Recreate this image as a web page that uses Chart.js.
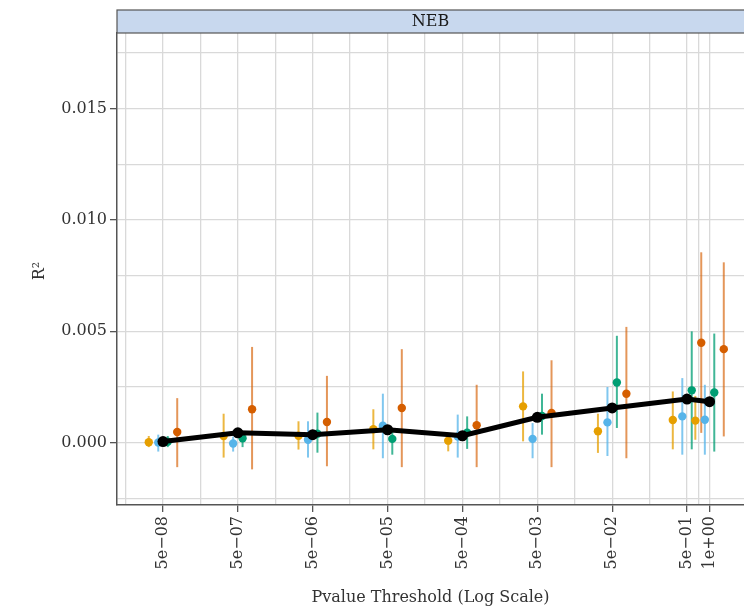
<!DOCTYPE HTML>
<html lang="EN">
<head>
<meta charset="utf-8">
<title>NEB R2 by threshold</title>
<style>
  html, body { margin: 0; padding: 0; background: #ffffff; overflow: hidden; }
  #wrap { position: relative; width: 744px; height: 610px; }
</style>
</head>
<body>
<div id="wrap">
  <canvas id="r2Chart" width="744" height="610"></canvas>
</div>

<script src="https://cdn.jsdelivr.net/npm/chart.js"></script>
<script>
// p-value thresholds and their labels
const thresholds = [5e-8, 5e-7, 5e-6, 5e-5, 5e-4, 5e-3, 5e-2, 5e-1, 1];
const tickLabels = ['5e\u221208', '5e\u221207', '5e\u221206', '5e\u221205', '5e\u221204', '5e\u221203', '5e\u221202', '5e\u221201', '1e+00'];
const minorX = [1.58e-8, 1.58e-7, 1.58e-6, 1.58e-5, 1.58e-4, 1.58e-3, 1.58e-2, 1.58e-1, 0.707];
const yTicks = [-0.0025, 0, 0.0025, 0.005, 0.0075, 0.01, 0.0125, 0.015, 0.0175];
const yLabels = ['', '0.000', '', '0.005', '', '0.010', '', '0.015', ''];

// black summary line
const meanR2 = [0.00005, 0.00044, 0.00036, 0.00058, 0.00031, 0.00114, 0.00156, 0.00196, 0.00184];

// coloured groups: value, lower, upper
const orangeR2 = [0.00002, 0.0003, 0.00031, 0.0006, 0.00009, 0.00163, 0.00051, 0.00102, 0.00099];
const orangeLo = [-0.0002, -0.00067, -0.00031, -0.0003, -0.00039, 0.00006, -0.00046, -0.0003, 0.00013];
const orangeHi = [0.0003, 0.0013, 0.00096, 0.0015, 0.00028, 0.0032, 0.0013, 0.0023, 0.0021];

const blueR2 = [0.00001, -0.00004, 0.00013, 0.00076, 0.00028, 0.00017, 0.00091, 0.00118, 0.00103];
const blueLo = [-0.0004, -0.0004, -0.00067, -0.0007, -0.00067, -0.0007, -0.0006, -0.00054, -0.00054];
const blueHi = [0.00036, 0.00027, 0.00096, 0.0022, 0.00126, 0.00088, 0.0025, 0.0029, 0.0026];

const greenR2 = [0.00004, 0.0002, 0.0004, 0.00017, 0.00045, 0.0012, 0.0027, 0.00235, 0.00225];
const greenLo = [-0.0002, -0.0002, -0.00045, -0.00054, -0.00028, 0.00036, 0.00066, -0.0003, -0.0004];
const greenHi = [0.0003, 0.00045, 0.00135, 0.0006, 0.00118, 0.0022, 0.0048, 0.005, 0.0049];

const redR2 = [0.00048, 0.0015, 0.00093, 0.00156, 0.00078, 0.00133, 0.0022, 0.00449, 0.0042];
const redLo = [-0.0011, -0.0012, -0.00106, -0.0011, -0.0011, -0.0011, -0.0007, 0.00044, 0.00028];
const redHi = [0.002, 0.0043, 0.003, 0.0042, 0.0026, 0.0037, 0.0052, 0.00855, 0.0081];

// dodge in decades (log10 units)
const dodge = [-0.19, -0.063, 0.063, 0.19];

const serif = '"DejaVu Serif", "Liberation Serif", serif';

function pts(vals, shift) {
  return thresholds.map(function (t, i) {
    return { x: t * Math.pow(10, shift), y: vals[i] };
  });
}

const groups = [
  { color: '#E69F00', bar: 'rgba(230,159,0,0.75)', r2: orangeR2, lo: orangeLo, hi: orangeHi },
  { color: '#56B4E9', bar: 'rgba(86,180,233,0.75)', r2: blueR2, lo: blueLo, hi: blueHi },
  { color: '#009E73', bar: 'rgba(0,158,115,0.75)', r2: greenR2, lo: greenLo, hi: greenHi },
  { color: '#D55E00', bar: 'rgba(213,94,0,0.65)', r2: redR2, lo: redLo, hi: redHi }
];

const datasets = [{
  label: 'mean',
  data: pts(meanR2, 0),
  showLine: true,
  borderColor: '#000000',
  backgroundColor: '#000000',
  borderWidth: 5,
  pointRadius: 5.5,
  pointBorderWidth: 0,
  order: 0
}];
groups.forEach(function (g, k) {
  datasets.push({
    label: 'g' + k,
    data: pts(g.r2, dodge[k]),
    backgroundColor: g.color,
    borderWidth: 0,
    pointRadius: 4.2,
    order: 1 + k
  });
});

// error bars, strip and axis titles
const extras = {
  id: 'extras',
  beforeDatasetsDraw: function (chart) {
    const ctx = chart.ctx;
    const ys = chart.scales.y;
    const area = chart.chartArea;
    ctx.save();
    ctx.beginPath();
    ctx.rect(area.left, area.top, area.right - area.left, area.bottom - area.top);
    ctx.clip();
    ctx.lineWidth = 2;
    groups.forEach(function (g, k) {
      const meta = chart.getDatasetMeta(k + 1);
      ctx.strokeStyle = g.bar;
      meta.data.forEach(function (p, i) {
        ctx.beginPath();
        ctx.moveTo(p.x, ys.getPixelForValue(g.lo[i]));
        ctx.lineTo(p.x, ys.getPixelForValue(g.hi[i]));
        ctx.stroke();
      });
    });
    ctx.restore();
  },
  afterDraw: function (chart) {
    const ctx = chart.ctx;
    const area = chart.chartArea;
    ctx.save();
    // facet strip
    ctx.fillStyle = '#c8d8ee';
    ctx.fillRect(area.left, 10, chart.width - area.left + 2, area.top - 10);
    ctx.strokeStyle = '#555555';
    ctx.lineWidth = 1.2;
    ctx.strokeRect(area.left, 10, chart.width - area.left + 4, area.top - 10);
    ctx.fillStyle = '#1a1a1a';
    ctx.font = '16px ' + serif;
    ctx.textAlign = 'center';
    ctx.textBaseline = 'middle';
    ctx.fillText('NEB', (area.left + area.right) / 2, 22);
    // axis titles
    ctx.fillStyle = '#333333';
    ctx.font = '16px ' + serif;
    ctx.fillText('Pvalue Threshold (Log Scale)', (area.left + area.right) / 2, 598);
    ctx.translate(40, 271);
    ctx.rotate(-Math.PI / 2);
    ctx.fillText('R\u00b2', 0, 0);
    ctx.restore();
  }
};

const minorSetX = new Set(minorX);

const config = {
  type: 'scatter',
  data: { datasets: datasets },
  options: {
    responsive: false,
    animation: false,
    layout: { autoPadding: false, padding: { top: 33, right: 0, left: 0, bottom: 0 } },
    plugins: {
      legend: { display: false },
      tooltip: { enabled: false }
    },
    scales: {
      x: {
        type: 'logarithmic',
        bounds: 'data',
        min: 1.215e-8,
        max: 2.885,
        afterBuildTicks: function (scale) {
          const all = thresholds.concat(minorX).sort(function (a, b) { return a - b; });
          scale.ticks = all.map(function (v) { return { value: v }; });
        },
        afterFit: function (scale) {
          scale.height = 105;
          scale.paddingLeft = 0;
          scale.paddingRight = 0;
        },
        ticks: {
          autoSkip: false,
          minRotation: 90,
          maxRotation: 90,
          padding: 4,
          color: '#333333',
          font: { family: serif, size: 16 },
          callback: function (value) {
            const i = thresholds.indexOf(value);
            return i >= 0 ? tickLabels[i] : '';
          }
        },
        grid: {
          color: '#d9d9d9',
          lineWidth: 1.3,
          tickLength: 7,
          tickColor: function (c) {
            return c.tick && minorSetX.has(c.tick.value) ? 'rgba(0,0,0,0)' : '#555555';
          }
        },
        border: { display: true, color: '#555555', width: 1.5 }
      },
      y: {
        min: -0.0028,
        max: 0.0184,
        afterBuildTicks: function (scale) {
          scale.ticks = yTicks.map(function (v) { return { value: v }; });
        },
        afterFit: function (scale) {
          scale.width = 117;
          scale.paddingTop = 0;
          scale.paddingBottom = 0;
        },
        ticks: {
          padding: 3,
          color: '#333333',
          font: { family: serif, size: 16 },
          callback: function (value) {
            const i = yTicks.indexOf(value);
            return i >= 0 ? yLabels[i] : '';
          }
        },
        grid: {
          color: '#d9d9d9',
          lineWidth: 1.3,
          tickLength: 7,
          tickColor: function (c) {
            return c.tick && yLabels[yTicks.indexOf(c.tick.value)] === '' ? 'rgba(0,0,0,0)' : '#555555';
          }
        },
        border: { display: true, color: '#555555', width: 1.5 }
      }
    }
  },
  plugins: [extras]
};

var r2Chart = new Chart(document.getElementById('r2Chart'), config);
</script>
</body>
</html>
